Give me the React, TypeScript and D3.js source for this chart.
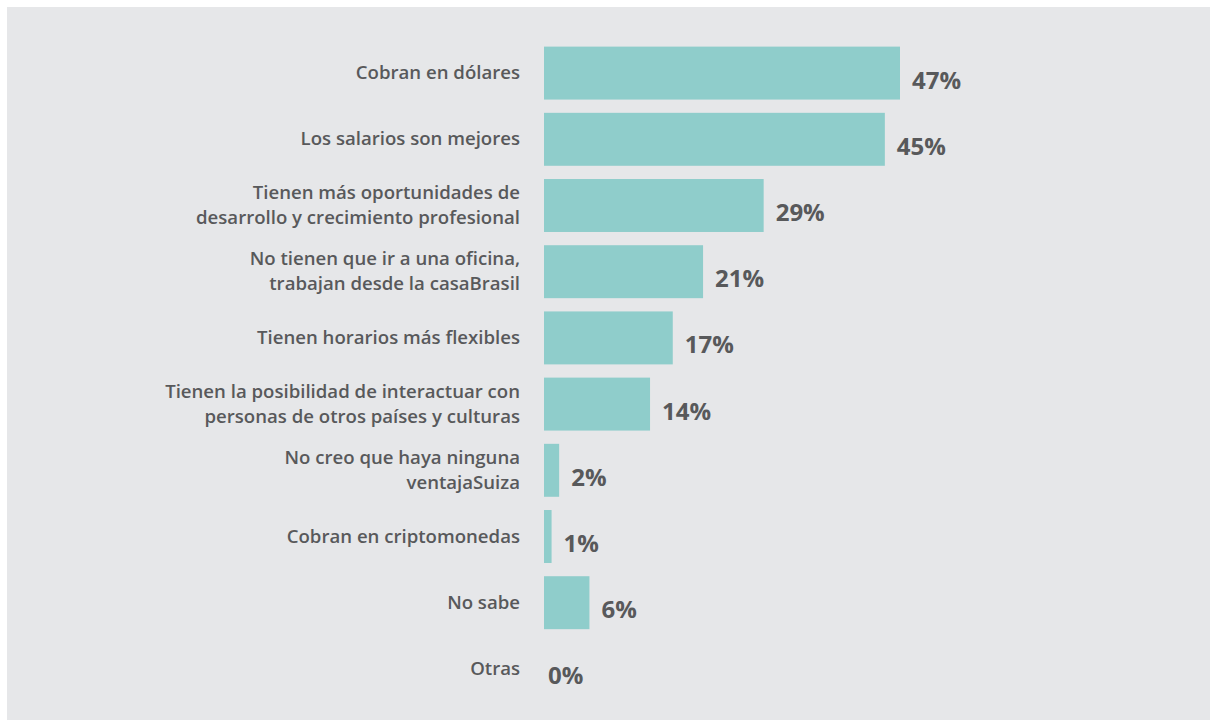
import React, { useEffect } from "react";
import * as d3 from "d3";

const categories: string[] = [
  "Cobran en dólares",
  "Los salarios son mejores",
  "Tienen más oportunidades de\ndesarrollo y crecimiento profesional",
  "No tienen que ir a una oficina,\ntrabajan desde la casaBrasil",
  "Tienen horarios más flexibles",
  "Tienen la posibilidad de interactuar con\npersonas de otros países y culturas",
  "No creo que haya ninguna\nventajaSuiza",
  "Cobran en criptomonedas",
  "No sabe",
  "Otras",
];
const values: number[] = [47, 45, 29, 21, 17, 14, 2, 1, 6, 0];

const OX = 7;
const OY = 7;
const W = 1210 - OX;
const H = 720 - OY;
const BG = "#e6e7e9";
const BAR = "#8fcdcb";
const TEXT = "#58595b";
const FONT = "'Open Sans', 'Noto Sans', sans-serif";

export default function App() {
  useEffect(() => {
    document.body.style.margin = "0";
    document.body.style.overflow = "hidden";
  }, []);
  const x = d3.scaleLinear().domain([0, 47]).range([544 - OX, 900 - OX]);
  const y = d3
    .scaleBand<number>()
    .domain(d3.range(categories.length))
    .range([40 - OY, 702 - OY])
    .paddingInner(0.2)
    .paddingOuter(0.1);
  const bw = y.bandwidth();
  const lineH = 25;
  const labelX = 520 - OX;

  return (
    <svg
      width={W}
      height={H}
      style={{ display: "block", marginLeft: OX, marginTop: OY }}
    >
      <rect x={0} y={0} width={W} height={H} fill={BG} />
      {categories.map((c, i) => {
        const y0 = y(i) as number;
        const cy = y0 + bw / 2;
        const lines = c.split("\n");
        const v = values[i];
        return (
          <g key={i}>
            {v > 0 && (
              <rect x={x(0)} y={y0} width={x(v) - x(0)} height={bw} fill={BAR} />
            )}
            <text
              x={labelX}
              textAnchor="end"
              fontFamily={FONT}
              fontWeight={600}
              fontSize={18.6}
              fill={TEXT}
            >
              {lines.map((l, k) => (
                <tspan
                  key={k}
                  x={labelX}
                  y={cy - ((lines.length - 1) * lineH) / 2 + k * lineH - 1.5}
                  dominantBaseline="central"
                >
                  {l}
                </tspan>
              ))}
            </text>
            <text
              x={x(v) + (v > 0 ? 12 : 4)}
              y={cy + 6}
              dominantBaseline="central"
              fontFamily={FONT}
              fontWeight={700}
              fontSize={24}
              fill={TEXT}
            >
              {v}%
            </text>
          </g>
        );
      })}
    </svg>
  );
}
